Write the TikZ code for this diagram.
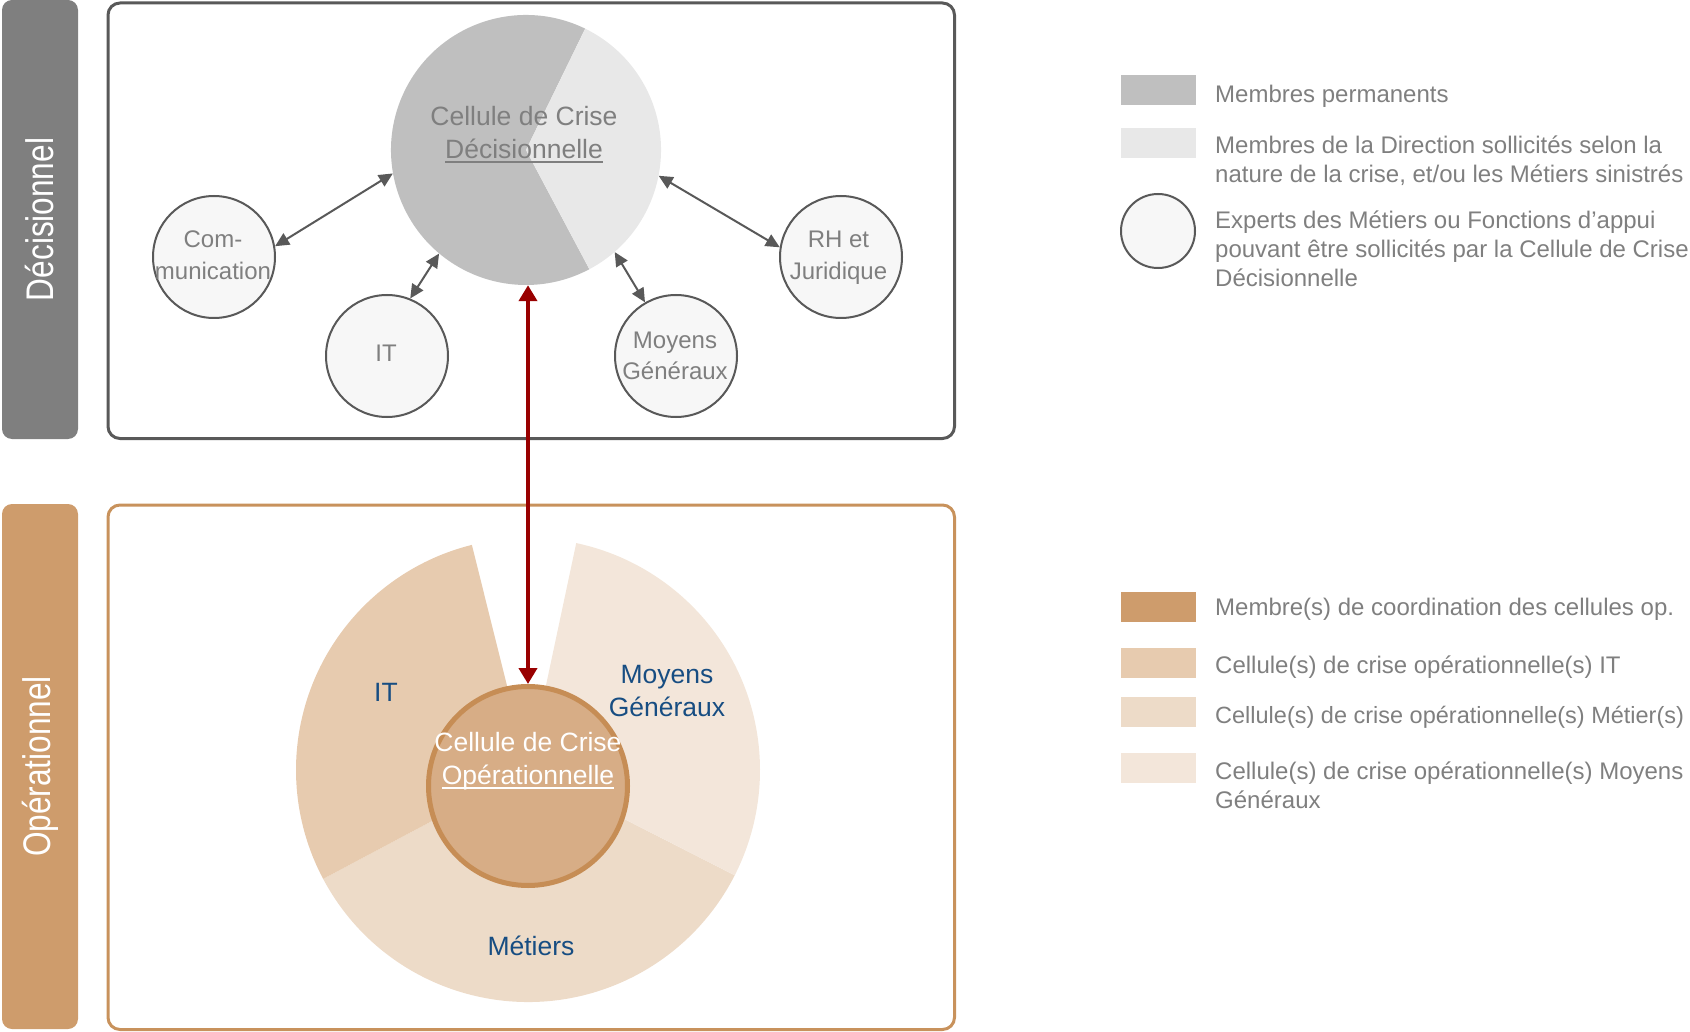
\documentclass[tikz,border=0pt]{standalone}
\usepackage{fontspec}
\setmainfont{Liberation Sans}
\newfontfamily\barfont[FakeStretch=0.82]{Liberation Sans}
\usetikzlibrary{arrows.meta}

\definecolor{txtgray}{HTML}{7F7F7F}
\definecolor{linegray}{HTML}{595959}
\definecolor{bargray}{HTML}{7F7F7F}
\definecolor{permcol}{HTML}{BFBFBF}
\definecolor{dircol}{HTML}{E8E8E8}
\definecolor{expfill}{HTML}{F7F7F7}
\definecolor{opbar}{HTML}{CE9C6C}
\definecolor{opframe}{HTML}{C8925C}
\definecolor{coordcol}{HTML}{CE9C6C}
\definecolor{itcol}{HTML}{E7CBAF}
\definecolor{metcol}{HTML}{EDDBC8}
\definecolor{mgcol}{HTML}{F3E6DA}
\definecolor{innerfill}{HTML}{D7AD86}
\definecolor{innerline}{HTML}{C68D55}
\definecolor{opblue}{HTML}{174D82}
\definecolor{linkred}{HTML}{990000}

% underline with a rule of fixed thickness
\newcommand\undl[1]{\setbox0=\hbox{#1}\rlap{\rule[-4.5pt]{\wd0}{1.8pt}}\box0}

% multi-line nodes are placed by the baseline of their last line
\tikzset{
  barbox/.style={rotate=90, rounded corners=10pt, inner sep=0,
    minimum height=76pt, text=white,
    font=\barfont\fontsize{38.5}{40}\selectfont},
  frame/.style={rounded corners=12pt, line width=3pt},
  expert/.style={circle, draw=linegray, line width=2pt, fill=expfill,
    minimum size=122pt, inner sep=0},
  exptext/.style={font=\fontsize{24}{32}\selectfont, text=txtgray,
    align=center, inner sep=0, anchor=base},
  bigtext/.style={font=\fontsize{26.5}{32.5}\selectfont, align=center,
    inner sep=0, anchor=base},
  link/.style={draw=linegray, line width=2pt,
    {Triangle[width=13pt,length=14pt]}-{Triangle[width=13pt,length=14pt]}},
  swatch/.style={inner sep=0, minimum width=75pt, minimum height=30pt},
  legtext/.style={font=\fontsize{24}{29}\selectfont, text=txtgray,
    anchor=base west, align=left, inner sep=0},
}

\begin{document}
\begin{tikzpicture}[x=1pt,y=1pt]
\useasboundingbox (0,0) rectangle (1690,-1032);

% side bars
\node[barbox, fill=bargray, minimum width=439pt] (decbar) at (40,-219.5) {Décisionnel};
\node[barbox, fill=opbar, minimum width=525pt] (opbar) at (40,-766.5) {Opérationnel};

% frames
\draw[frame, draw=linegray] (108,-3) rectangle (954.5,-438.5);
\draw[frame, draw=opframe] (108,-505) rectangle (954.5,-1029.5);

% decision cell: two-part disc
\node[circle, minimum size=270pt, inner sep=0] (big) at (526,-150) {};
\fill[permcol] (big.center) -- ++(64:135) arc[start angle=64, end angle=298, radius=135] -- cycle;
\fill[dircol] (big.center) -- ++(-62:135) arc[start angle=-62, end angle=64, radius=135] -- cycle;
\node[bigtext, text=txtgray] (bigtxt) at (524,-158.5) {Cellule de Crise\\\undl{Décisionnelle}};

% experts
\node[expert] (com) at (214,-257) {};
\node[expert] (it) at (387,-356) {};
\node[expert] (mg) at (676,-356) {};
\node[expert] (rh) at (841,-257) {};
\node[exptext] (comtxt) at (213,-280) {Com-\\munication};
\node[exptext] (ittxt) at (386,-362) {IT};
\node[exptext] (mgtxt) at (675,-380) {Moyens\\Généraux};
\node[exptext] (rhtxt) at (838.5,-280) {RH et\\Juridique};

\draw[link] (com.10) -- (big.190);
\draw[link] (it.68) -- (big.230);
\draw[link] (mg.120) -- (big.311);
\draw[link] (rh.171) -- (big.349);

% operational cells
\coordinate (o) at (528,-770);
\fill[metcol] (o) -- ++(208:232) arc[start angle=208, end angle=333, radius=232] -- cycle;
\fill[itcol] (o) -- ++(104:232) arc[start angle=104, end angle=208, radius=232] -- cycle;
\fill[mgcol] (o) -- ++(-27:232) arc[start angle=-27, end angle=78, radius=232] -- cycle;
\node[circle, draw=innerline, fill=innerfill, line width=5pt, minimum size=199pt, inner sep=0] (op) at (528,-786) {};

\node[bigtext, text=opblue] (itlbl) at (386,-701) {IT};
\node[bigtext, text=opblue] (mglbl) at (667,-716) {Moyens\\Généraux};
\node[bigtext, text=opblue] (metlbl) at (531,-955) {Métiers};
\node[bigtext, text=white] (optxt) at (528,-784) {Cellule de Crise\\\undl{Opérationnelle}};

% link between the two levels
\draw[draw=linkred, line width=4pt, {Triangle[width=18pt,length=16pt]}-{Triangle[width=18pt,length=16pt]}] (op.north |- big.south) -- (op.north);

% legend, decision level
\node[swatch, fill=permcol] (sw1) at (1158.5,-90.5) {};
\node[legtext] (lg1) at (1215,-103) {Membres permanents};
\node[swatch, fill=dircol] (sw2) at (1158.5,-143) {};
\node[legtext] (lg2) at (1215,-183) {Membres de la Direction sollicités selon la\\nature de la crise, et/ou les Métiers sinistrés};
\node[circle, draw=linegray, line width=2pt, fill=expfill, minimum size=74pt, inner sep=0] (sw3) at (1158,-231) {};
\node[legtext] (lg3) at (1215,-287) {Experts des Métiers ou Fonctions d’appui\\pouvant être sollicités par la Cellule de Crise\\Décisionnelle};

% legend, operational level
\node[swatch, fill=coordcol] (sw4) at (1158.5,-606.5) {};
\node[legtext] (lg4) at (1215,-615) {Membre(s) de coordination des cellules op.};
\node[swatch, fill=itcol] (sw5) at (1158.5,-663) {};
\node[legtext] (lg5) at (1215,-673) {Cellule(s) de crise opérationnelle(s) IT};
\node[swatch, fill=metcol] (sw6) at (1158.5,-711.5) {};
\node[legtext, font=\fontsize{23.5}{29}\selectfont] (lg6) at (1215,-723) {Cellule(s) de crise opérationnelle(s) Métier(s)};
\node[swatch, fill=mgcol] (sw7) at (1158.5,-767.5) {};
\node[legtext] (lg7) at (1215,-808) {Cellule(s) de crise opérationnelle(s) Moyens\\Généraux};
\end{tikzpicture}
\end{document}
